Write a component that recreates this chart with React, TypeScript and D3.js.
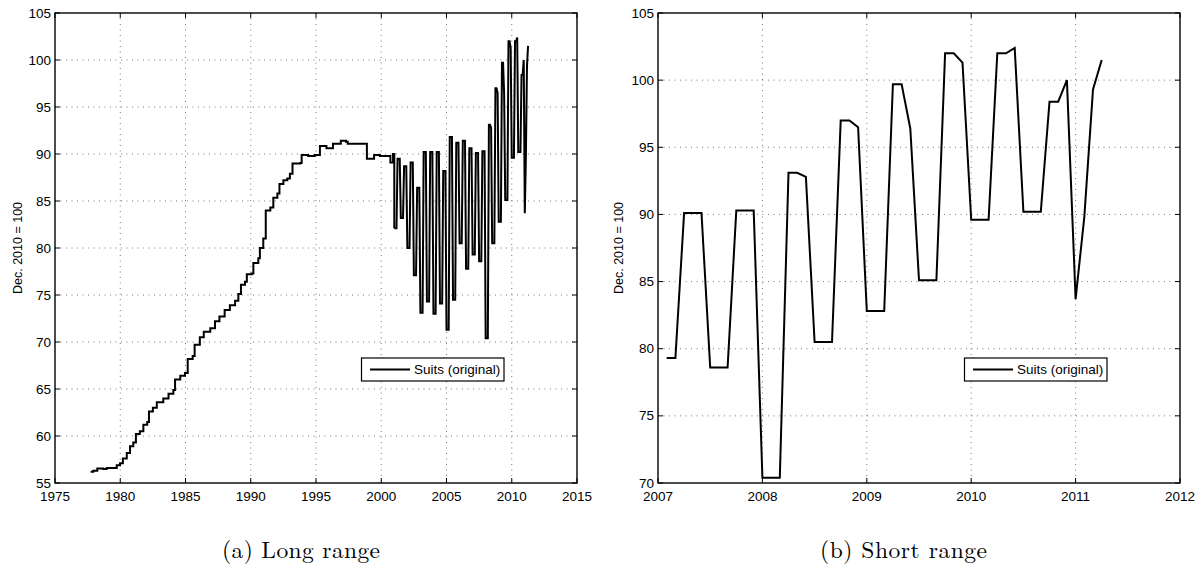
import React from "react";
import * as d3 from "d3";

const width = 1200;
const height = 567;
const plotTop = 13;
const plotWidth = 522;
const plotHeight = 470;
const tickLen = 5;

// long series, 1977-2000: vertices of the staircase (decimal year, index)
const earlyYears = [
  1977.73, 1977.93, 1978.24, 1978.7, 1978.96, 1979.6, 1979.73, 1979.98, 1980.2, 1980.5,
  1980.75, 1981.0, 1981.2, 1981.5, 1981.77, 1982.07, 1982.2, 1982.5, 1982.8, 1983.3,
  1983.55, 1983.7, 1984.07, 1984.2, 1984.6, 1984.96, 1985.17, 1985.55, 1985.7, 1986.1,
  1986.4, 1986.9, 1987.26, 1987.6, 1988.0, 1988.4, 1988.8, 1989.05, 1989.25, 1989.56,
  1989.7, 1990.07, 1990.2, 1990.58, 1990.7, 1990.96, 1991.15, 1991.5, 1991.73, 1992.04,
  1992.2, 1992.5, 1992.8, 1993.0, 1993.2, 1993.8, 1993.9, 1994.4, 1994.9, 1995.3,
  1995.8, 1996.3, 1996.7, 1996.9, 1997.3, 1997.43, 1998.75, 1998.9, 1999.27, 1999.45,
  1999.9, 2000.6, 2000.7, 2000.8, 2000.9,
];
const earlyValues = [
  56.2, 56.3, 56.55, 56.5, 56.6, 56.6, 56.9, 57.1, 57.6, 58.2,
  58.9, 59.3, 60.2, 60.5, 61.2, 61.5, 62.6, 63.0, 63.6, 64.0,
  64.0, 64.5, 64.9, 66.0, 66.4, 66.7, 68.2, 68.5, 69.7, 70.5,
  71.1, 71.45, 72.2, 72.7, 73.4, 73.9, 74.4, 75.1, 76.1, 76.4,
  77.2, 77.3, 78.4, 78.9, 80.0, 81.0, 84.0, 84.3, 85.35, 85.8,
  86.8, 87.2, 87.4, 87.9, 89.0, 89.05, 89.9, 89.8, 89.9, 90.85,
  90.6, 91.1, 91.1, 91.4, 91.3, 91.1, 91.1, 89.5, 89.5, 89.9,
  89.8, 89.8, 89.1, 89.1, 90.0,
];

// monthly values from Jan 2001 to Apr 2011
const monthlyStart = 2001;
const monthlyValues = [
  82.1, 82.1, 82.1, 89.5, 89.5, 89.5, 83.2, 83.2, 83.2, 88.7, 88.7, 88.7,
  80.0, 80.0, 80.0, 89.1, 89.1, 89.1, 77.1, 77.1, 77.1, 86.4, 86.4, 86.4,
  73.1, 73.1, 73.1, 90.2, 90.2, 90.2, 74.3, 74.3, 74.3, 90.2, 90.2, 90.2,
  73.0, 73.0, 73.0, 90.2, 90.2, 90.2, 74.1, 74.1, 74.1, 88.2, 88.2, 88.2,
  71.3, 71.3, 71.3, 91.8, 91.8, 91.8, 74.5, 74.5, 74.5, 91.2, 91.2, 91.2,
  80.5, 80.5, 80.5, 91.4, 91.4, 91.4, 77.8, 77.8, 77.8, 90.6, 90.6, 90.6,
  79.3, 79.3, 79.3, 90.1, 90.1, 90.1, 78.6, 78.6, 78.6, 90.3, 90.3, 90.3,
  70.4, 70.4, 70.4, 93.1, 93.1, 92.8, 80.5, 80.5, 80.5, 97.0, 97.0, 96.5,
  82.8, 82.8, 82.8, 99.7, 99.7, 96.4, 85.1, 85.1, 85.1, 102.0, 102.0, 101.3,
  89.6, 89.6, 89.6, 102.0, 102.0, 102.4, 90.2, 90.2, 90.2, 98.4, 98.4, 100.0,
  83.7, 89.8, 99.3, 101.5,
];
const shortFrom = 2007 + 1 / 12;

const longXTicks = [1975, 1980, 1985, 1990, 1995, 2000, 2005, 2010, 2015];
const longYTicks = [55, 60, 65, 70, 75, 80, 85, 90, 95, 100, 105];
const shortXTicks = [2007, 2008, 2009, 2010, 2011, 2012];
const shortYTicks = [70, 75, 80, 85, 90, 95, 100, 105];

const yLabel = "Dec. 2010 = 100";
const legendLabel = "Suits (original)";
const captions = ["(a) Long range", "(b) Short range"];

const sans = "'Liberation Sans', Arial, Helvetica, sans-serif";
const serif = "'Latin Modern Roman', 'CMU Serif', 'Liberation Serif', serif";

const monthly = monthlyValues.map((v, i) => [monthlyStart + i / 12, v]);
const early = earlyYears.map((t, i) => [t, earlyValues[i]]);

const Panel = ({ left, xTicks, yTicks, early, series, labelX }) => {
  const x = d3
    .scaleLinear()
    .domain([xTicks[0], xTicks[xTicks.length - 1]])
    .range([0, plotWidth]);
  const y = d3
    .scaleLinear()
    .domain([yTicks[0], yTicks[yTicks.length - 1]])
    .range([plotHeight, 0]);
  const line = d3.line().x(d => x(d[0])).y(d => y(d[1]));
  const stepLine = d3
    .line()
    .x(d => x(d[0]))
    .y(d => y(d[1]))
    .curve(d3.curveStepAfter);

  const legendW = 142.5;
  const legendH = 23;
  const legendX = plotWidth - 73 - legendW;
  const legendY = 345;

  return (
    <g transform={`translate(${left},${plotTop})`}>
      {/* grid */}
      {xTicks.slice(1, -1).map(t => (
        <line
          key={"gx" + t}
          x1={x(t)}
          x2={x(t)}
          y1={0}
          y2={plotHeight}
          stroke="#555"
          strokeWidth={0.8}
          strokeDasharray="1 4.5"
        />
      ))}
      {yTicks.slice(1, -1).map(t => (
        <line
          key={"gy" + t}
          x1={0}
          x2={plotWidth}
          y1={y(t)}
          y2={y(t)}
          stroke="#555"
          strokeWidth={0.8}
          strokeDasharray="1 4.5"
        />
      ))}

      {/* data */}
      {early && (
        <path
          d={stepLine([...early, series[0]])}
          fill="none"
          stroke="#000"
          strokeWidth={2}
        />
      )}
      <path
        d={line(series)}
        fill="none"
        stroke="#000"
        strokeWidth={2}
        strokeLinejoin="miter"
      />

      {/* box and ticks */}
      <rect
        x={0}
        y={0}
        width={plotWidth}
        height={plotHeight}
        fill="none"
        stroke="#000"
        strokeWidth={1.4}
      />
      {xTicks.map(t => (
        <g key={"tx" + t}>
          <line x1={x(t)} x2={x(t)} y1={plotHeight} y2={plotHeight - tickLen} stroke="#000" />
          <line x1={x(t)} x2={x(t)} y1={0} y2={tickLen} stroke="#000" />
          <text
            x={x(t)}
            y={plotHeight + 17.5}
            textAnchor="middle"
            fontFamily={sans}
            fontSize={13.5}
          >
            {t}
          </text>
        </g>
      ))}
      {yTicks.map(t => (
        <g key={"ty" + t}>
          <line x1={0} x2={tickLen} y1={y(t)} y2={y(t)} stroke="#000" />
          <line x1={plotWidth} x2={plotWidth - tickLen} y1={y(t)} y2={y(t)} stroke="#000" />
          <text
            x={-4}
            y={y(t)}
            dy="0.34em"
            textAnchor="end"
            fontFamily={sans}
            fontSize={13.5}
          >
            {t}
          </text>
        </g>
      ))}
      <text
        transform={`translate(${labelX},${plotHeight / 2}) rotate(-90)`}
        textAnchor="middle"
        fontFamily={sans}
        fontSize={12.5}
      >
        {yLabel}
      </text>

      {/* legend */}
      <g transform={`translate(${legendX},${legendY})`}>
        <rect
          width={legendW}
          height={legendH}
          fill="#fff"
          stroke="#000"
          strokeWidth={1.2}
        />
        <line x1={8.5} x2={48.5} y1={11.5} y2={11.5} stroke="#000" strokeWidth={2} />
        <text x={52.5} y={16.2} fontFamily={sans} fontSize={13.5}>
          {legendLabel}
        </text>
      </g>
    </g>
  );
};

const App = () => {
  const shortSeries = monthly.filter(d => d[0] >= shortFrom - 1e-6);
  return (
    <svg
      width={width}
      height={height}
      style={{ position: "absolute", left: 0, top: 0, background: "#fff" }}
    >
      <Panel
        left={55}
        xTicks={longXTicks}
        yTicks={longYTicks}
        early={early}
        series={monthly}
        labelX={-33}
      />
      <Panel
        left={658}
        xTicks={shortXTicks}
        yTicks={shortYTicks}
        early={null}
        series={shortSeries}
        labelX={-35}
      />
      <text x={222} y={558} fontFamily={serif} fontSize={23.5} textLength={158} lengthAdjust="spacing">
        {captions[0]}
      </text>
      <text x={820} y={558} fontFamily={serif} fontSize={23.5} textLength={167} lengthAdjust="spacing">
        {captions[1]}
      </text>
    </svg>
  );
};

export default App;
